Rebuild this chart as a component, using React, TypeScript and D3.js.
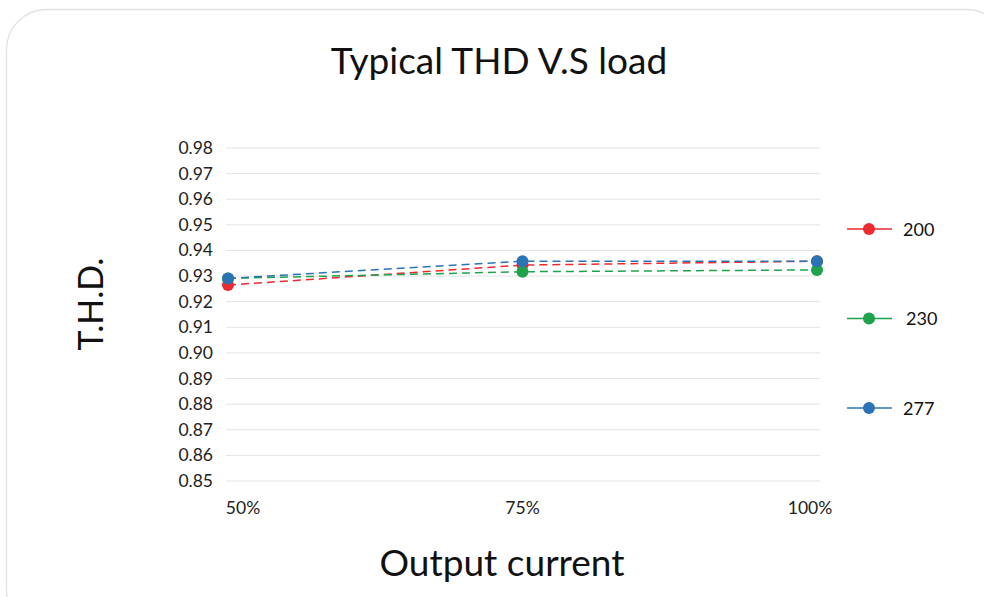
import * as d3 from "d3";

const categories = ["50%", "75%", "100%"];
const yTicks = [0.85, 0.86, 0.87, 0.88, 0.89, 0.9, 0.91, 0.92, 0.93, 0.94, 0.95, 0.96, 0.97, 0.98];
const series200 = [0.9265, 0.9343, 0.9358];
const series230 = [0.9291, 0.9317, 0.9324];
const series277 = [0.9291, 0.9358, 0.9358];

const seriesList = [
  { name: "200", values: series200, color: "#ec2a2f" },
  { name: "230", values: series230, color: "#1ea34c" },
  { name: "277", values: series277, color: "#2a74b5" },
];

const W = 984;
const H = 597;
const font = "Lato, 'Open Sans', sans-serif";

export default function App() {
  const x = d3.scalePoint<string>().domain(categories).range([228, 817]);
  const y = d3.scaleLinear().domain([0.85, 0.98]).range([481, 148]);
  const line = d3
    .line<number>()
    .x((_, i) => x(categories[i]) as number)
    .y((d) => y(d));
  const legendY = d3.scalePoint<string>().domain(seriesList.map((s) => s.name)).range([229, 408]);

  return (
    <svg
      width={W}
      height={H}
      style={{ position: "absolute", left: 0, top: 0, background: "#fff" }}
    >
      <rect x={6.5} y={9.5} width={1000} height={620} rx={40} fill="#fff" stroke="#e2e2e2" strokeWidth={1.3} />
      <text x={499} y={74} textAnchor="middle" fontFamily={font} fontSize={37} fill="#111">
        Typical THD V.S load
      </text>
      {yTicks.map((t) => (
        <g key={t}>
          <line x1={226} x2={820} y1={y(t)} y2={y(t)} stroke="#e3e3e3" strokeWidth={1} />
          <text x={213} y={y(t) + 6} textAnchor="end" fontFamily={font} fontSize={17.5} fill="#222">
            {t.toFixed(2)}
          </text>
        </g>
      ))}
      {categories.map((c, i) => (
        <text
          key={c}
          x={(x(c) as number) + (i === 0 ? 15 : i === 2 ? -7 : 0)}
          y={514}
          textAnchor="middle"
          fontFamily={font}
          fontSize={17.5}
          fill="#222"
        >
          {c}
        </text>
      ))}
      {seriesList.map((s) => (
        <g key={s.name}>
          <path d={line(s.values) ?? ""} fill="none" stroke={s.color} strokeWidth={1.5} strokeDasharray="8,5" />
          {s.values.map((v, i) => (
            <circle key={i} cx={x(categories[i]) as number} cy={y(v)} r={6} fill={s.color} />
          ))}
        </g>
      ))}
      {seriesList.map((s) => {
        const ly = legendY(s.name) as number;
        return (
          <g key={"l" + s.name}>
            <line x1={847} x2={892} y1={ly} y2={ly} stroke={s.color} strokeWidth={1.5} />
            <circle cx={869} cy={ly} r={6} fill={s.color} />
            <text x={s.name === "230" ? 906 : 903} y={ly + 6.5} fontFamily={font} fontSize={18} fill="#111">
              {s.name}
            </text>
          </g>
        );
      })}
      <text
        transform="translate(103,304) rotate(-90)"
        textAnchor="middle"
        fontFamily={font}
        fontSize={34}
        fill="#111"
      >
        T.H.D.
      </text>
      <text x={502} y={576} textAnchor="middle" fontFamily={font} fontSize={37} fill="#111">
        Output current
      </text>
    </svg>
  );
}
